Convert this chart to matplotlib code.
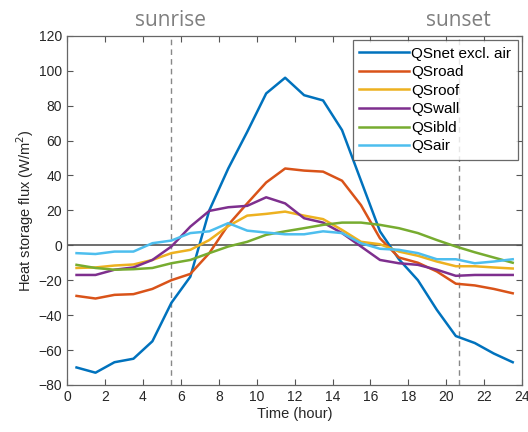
import matplotlib
matplotlib.use("Agg")
import matplotlib.pyplot as plt
import numpy as np

plt.rcParams['font.family'] = ['Liberation Sans', 'DejaVu Sans']

hours = [h + 0.5 for h in range(24)]

qs_net = [-70, -73, -67, -65, -55, -33, -18, 20, 44, 65, 87, 96, 86, 83, 66, 37,
          8, -8, -20, -37, -52, -56, -62, -67]
qs_road = [-29, -30.5, -28.4, -28, -25, -20, -16.4, -4.5, 11.7, 24, 36, 44, 42.8, 42.2, 37, 23,
           4, -7, -10, -15, -22, -23, -25, -27.5]
qs_roof = [-13, -12.7, -11.6, -11, -8.4, -4.5, -2.6, 3, 11, 17, 18, 19.3, 17, 15, 8.8, 2,
           0.6, -3.6, -6, -9.3, -12, -12, -12.7, -13.3]
qs_wall = [-17, -17, -14, -12.7, -8.4, -0.7, 10.7, 19.7, 21.8, 22.6, 27.5, 24, 15.5, 13, 7, -0.7,
           -8.4, -10.3, -11.2, -14, -17.5, -17, -17, -17]
qs_ibld = [-11.2, -13, -14, -13.7, -13, -10.3, -8.4, -4.5, -0.7, 2, 6, 8, 9.8, 11.7, 13, 13,
           11.7, 9.8, 7, 3, -0.7, -4, -7, -10]
qs_air = [-4.5, -5, -3.6, -3.6, 1.2, 2.7, 7, 8, 12.7, 8.4, 7.3, 6.3, 6.3, 8, 7, 1.2,
          -2, -2.6, -4.5, -8, -8, -10.3, -9.3, -8]

series = [
    ("QSnet excl. air", qs_net, "#0072BD"),
    ("QSroad", qs_road, "#D95319"),
    ("QSroof", qs_roof, "#EDB120"),
    ("QSwall", qs_wall, "#7E2F8E"),
    ("QSibld", qs_ibld, "#77AC30"),
    ("QSair", qs_air, "#4DBEEE"),
]

sunrise = 5.5
sunset = 20.65

x_ticks = list(range(0, 25, 2))
y_ticks = list(range(-80, 121, 20))

fig = plt.figure(figsize=(5.28, 4.32), dpi=100)
ax = fig.add_axes([0.127, 0.109, 0.862, 0.808])

ax.axhline(0, color="#555555", lw=1.2, zorder=1)
ax.axvline(sunrise, color="#888888", lw=1.0, ls=(0, (4, 3)), zorder=1)
ax.axvline(sunset, color="#888888", lw=1.0, ls=(0, (4, 3)), zorder=1)

for label, vals, col in series:
    ax.plot(hours, vals, color=col, lw=1.8, label=label, zorder=2)

ax.set_xlim(0, 24)
ax.set_ylim(-80, 120)
ax.set_xticks(x_ticks)
ax.set_yticks(y_ticks)
ax.tick_params(direction="in", top=True, right=True, length=4, width=0.8,
               colors="#555555", labelcolor="#262626", labelsize=10)
for s in ax.spines.values():
    s.set_color("#666666")
    s.set_linewidth(0.9)

ax.set_xlabel("Time (hour)", fontsize=10.5, color="#262626", labelpad=2)
ax.set_ylabel("Heat storage flux (W/m$^2$)", fontsize=10.5, color="#262626", labelpad=2)

leg = ax.legend(loc="upper right", fontsize=11, frameon=True, fancybox=False,
                edgecolor="#444444", handlelength=3.3, handletextpad=0.15,
                labelspacing=0.3, borderaxespad=0.3, borderpad=0.4)
leg.get_frame().set_linewidth(0.9)

fig.text(170 / 528, 1 - 20 / 432, "sunrise", ha="center", va="center",
         fontsize=15, color="#7f7f7f", family=["Open Sans", "DejaVu Sans"])
fig.text(458 / 528, 1 - 20 / 432, "sunset", ha="center", va="center",
         fontsize=15, color="#7f7f7f", family=["Open Sans", "DejaVu Sans"])

fig.savefig("out.png", dpi=100)
